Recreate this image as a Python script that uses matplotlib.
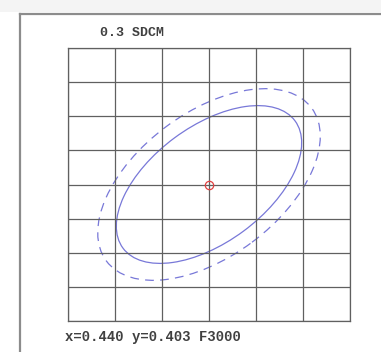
import numpy as np
import matplotlib
matplotlib.use("Agg")
import matplotlib.pyplot as plt
from matplotlib.patches import Ellipse

# chart values (grid in px-like units, origin at target point)
grid_x = [-141, -94, -47, 0, 47, 94, 141]
grid_y = [-136.5, -102.4, -68.2, -34.1, 0, 34.1, 68.2, 102.4, 136.5]
target = (0.0, 0.0)
ell_center = [(0.0, 0.0), (0.0, 0.0)]
ell_width = [214, 256]
ell_height = [116, 144]
ell_angle = [36.5, 36.7]
ell_style = ['solid', 'dashed']
title_txt = '0.3 SDCM'
info_txt = 'x=0.440 y=0.403 F3000'

W, H = 381, 352
fig = plt.figure(figsize=(W/100, H/100), dpi=100)
fig.patch.set_facecolor('white')

# window frame
fig.add_artist(plt.Rectangle((0, 1 - 12/H), 1.01, 12/H, color='#f4f4f4', lw=0, transform=fig.transFigure))
fig.add_artist(plt.Line2D([20/W, 1.02], [1 - 14/H, 1 - 14/H], color='#8c8c8c', lw=1.6, transform=fig.transFigure))
fig.add_artist(plt.Line2D([20/W, 20/W], [-0.02, 1 - 14/H], color='#8c8c8c', lw=1.6, transform=fig.transFigure))

ax = fig.add_axes([68/W, (H-321)/H, (350-68)/W, (321-48)/H])
ax.set_xlim(grid_x[0], grid_x[-1])
ax.set_ylim(grid_y[0], grid_y[-1])
for v in grid_x:
    ax.axvline(v, color='#606060', lw=0.9)
for v in grid_y:
    ax.axhline(v, color='#606060', lw=0.9)
ax.set_xticks([])
ax.set_yticks([])
for s in ax.spines.values():
    s.set_color('#606060')
    s.set_linewidth(0.9)

for c, w, h, a, st in zip(ell_center, ell_width, ell_height, ell_angle, ell_style):
    e = Ellipse(c, w, h, angle=a, fill=False, edgecolor='#7878d8', lw=0.9)
    if st == 'dashed':
        e.set_linestyle((0, (7, 5)))
    ax.add_patch(e)

ax.plot(target[0], target[1], 'o', ms=6, mfc='none', mec='#e04040', mew=0.9)

fig.text(100/W, 1 - 33/H, title_txt, family='Liberation Mono', weight='bold',
         fontsize=9.5, color='#404040', va='center', ha='left')
fig.text(65/W, 1 - 337/H, info_txt, family='Liberation Mono', weight='bold',
         fontsize=10, color='#404040', va='center', ha='left')

fig.savefig('out.png', dpi=100)
